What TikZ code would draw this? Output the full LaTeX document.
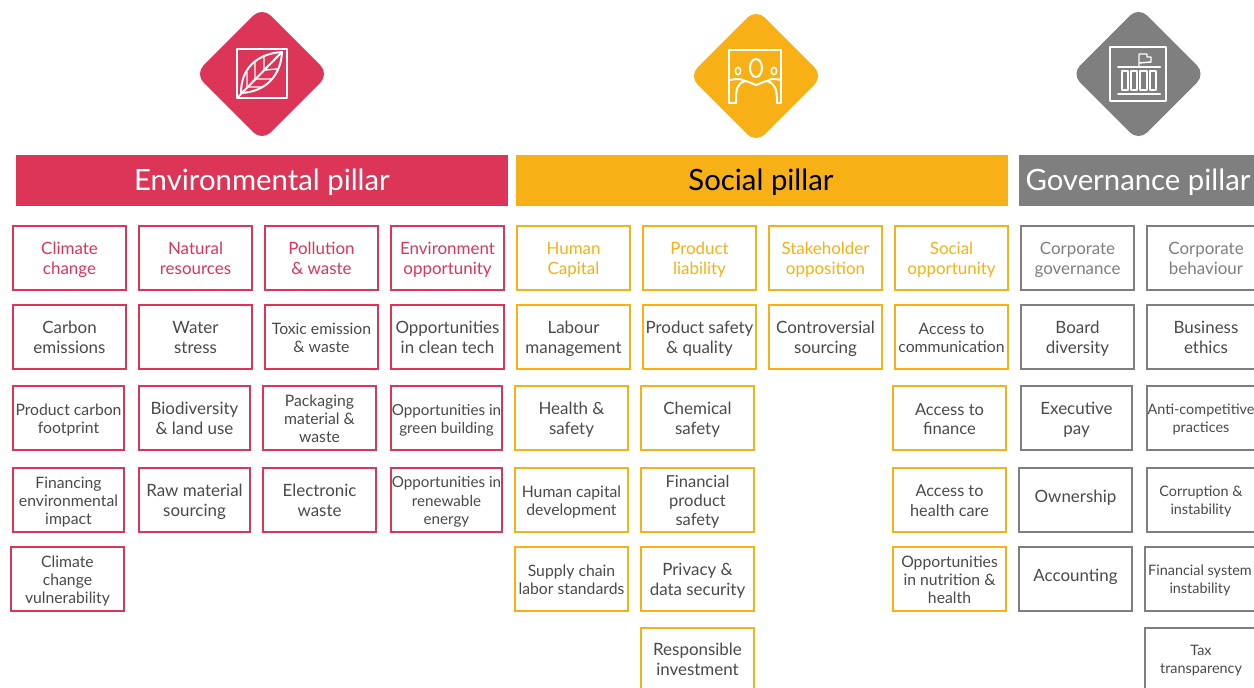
\documentclass[tikz,border=0pt]{standalone}
\usepackage{fontspec}
\setmainfont{Lato}
\definecolor{envc}{HTML}{DC3558}
\definecolor{socc}{HTML}{F7B015}
\definecolor{govc}{HTML}{7F7F7F}
\definecolor{txt}{HTML}{4A4A4A}
\newcommand{\fa}{\fontsize{12.7pt}{15pt}\selectfont}
\newcommand{\fb}{\fontsize{11.8pt}{13.8pt}\selectfont}
\newcommand{\fc}{\fontsize{10.8pt}{13.6pt}\selectfont}
\newcommand{\fd}{\fontsize{11.4pt}{13.8pt}\selectfont}
\newcommand{\fe}{\fontsize{12.4pt}{14.2pt}\selectfont}
\newcommand{\ff}{\fontsize{12.2pt}{15pt}\selectfont}
\newcommand{\bx}[9]{% line colour, text colour, font, name, x0,y0,x1,y1, text
  \pgfmathsetmacro{\bw}{(#7-#5)*0.75-1.2}\pgfmathsetmacro{\bh}{(#8-#6)*0.75-1.2}
  \node[cell,draw=#1,text=#2,font=#3,minimum width=\bw pt,minimum height=\bh pt] (#4) at ({(#5+#7)/2},{(#6+#8)/2}) {\rule{0pt}{1em}#9\vphantom{g}}}
\tikzset{
  x=0.75pt,y=-0.75pt,
  cell/.style={rectangle,line width=1.5pt,inner sep=0pt,align=center,fill=white},
  pillar/.style={rectangle,inner sep=0pt,font=\fontsize{22pt}{25pt}\selectfont,anchor=center},
  gem/.style={line width=0pt,rounded corners=9pt},
  ico/.style={draw=white,line width=1.5pt,line join=round,line cap=round},
  icothin/.style={draw=white,line width=1.1pt,line join=round,line cap=round}
}
\begin{document}
\begin{tikzpicture}
\path[use as bounding box,fill=white] (0,0) rectangle (1254,688);
\clip (0,0) rectangle (1254,688);
% diamonds
\fill[envc,gem] (262,7) -- (329,74) -- (262,141) -- (195,74) -- cycle;
\fill[socc,gem] (756,9) -- (823,76) -- (756,143) -- (689,76) -- cycle;
\fill[govc,gem] (1138.5,7) -- (1205.5,74) -- (1138.5,141) -- (1071.5,74) -- cycle;
% leaf icon
\draw[ico] (237,49) rectangle (287,98);
\draw[ico] (237,98) -- (281,53);
\draw[ico] (241,93) .. controls (241,70) and (255,54) .. (282,52) .. controls (281,75) and (266,92) .. (241,93);
\draw[icothin] (247,87) -- (247,72) (255,79) -- (255,62) (264,70) -- (264,56)
  (247,87) -- (262,87) (255,79) -- (272,79) (264,70) -- (278,69);
% people icon
\draw[ico] (729,103) -- (729,50) -- (781,50) -- (781,103) -- (777,103);
\draw[ico] (729,103) -- (736,103) .. controls (736,88) and (737,84) .. (745,81) .. controls (750,82) and (753,84) .. (756,85) .. controls (760,84) and (762,82) .. (767,81) .. controls (775,84) and (777,88) .. (777,103);
\draw[ico] (730,80) .. controls (735,79) and (740,78) .. (745,81) (781,80) .. controls (776,79) and (771,78) .. (767,81);
\draw[ico] (756,68) ellipse [x radius=6,y radius=9];
\draw[icothin] (738,71) ellipse [x radius=2.7,y radius=3.7] (774,71) ellipse [x radius=2.7,y radius=3.7];
% building icon
\draw[ico] (1110,47) rectangle (1166,101);
\draw[ico] (1118,67) -- (1160,67) (1118,94) -- (1160,94);
\draw[icothin] (1139,66) -- (1139,54) -- (1147,54) -- (1147,57) -- (1151,57) -- (1151,62) -- (1139,63);
\draw[icothin] (1122,71) rectangle (1128,90) (1131,71) rectangle (1137,90) (1140,71) rectangle (1147,90) (1150,71) rectangle (1156,90);
% headers
\fill[envc] (16,155) rectangle (508,206);
\fill[socc] (516,155) rectangle (1008,206);
\fill[govc] (1019,155) rectangle (1254,206);
\node[pillar,text=white] (henv) at (262,182.5) {Environmental pillar};
\node[pillar,text=black] (hsoc) at (761,182.5) {Social pillar};
\node[pillar,text=white] (hgov) at (1138,182.5) {Governance pillar};
% Environmental
\bx{envc}{envc}{\fa}{e11}{12}{225}{127}{291} {Climate\\change};
\bx{envc}{envc}{\fa}{e12}{138}{225}{253}{291} {Natural\\resources};
\bx{envc}{envc}{\fa}{e13}{264}{225}{379}{291} {Pollution\\\& waste};
\bx{envc}{envc}{\fa}{e14}{390}{225}{505}{291} {Environment\\opportunity};
\bx{envc}{txt}{\fa}{e21}{12}{304}{127}{370} {Carbon\\emissions};
\bx{envc}{txt}{\fa}{e22}{138}{304}{253}{370} {Water\\stress};
\bx{envc}{txt}{\fb}{e23}{264}{304}{379}{370} {Toxic emission\\\& waste};
\bx{envc}{txt}{\fa}{e24}{390}{304}{505}{370} {Opportunities\\in clean tech};
\bx{envc}{txt}{\fb}{e31}{12}{385}{125}{451} {Product carbon\\footprint};
\bx{envc}{txt}{\fa}{e32}{138}{385}{251}{451} {Biodiversity\\\& land use};
\bx{envc}{txt}{\fb}{e33}{262}{385}{377}{451} {Packaging\\material \&\\waste};
\bx{envc}{txt}{\fd}{e34}{390}{385}{503}{451} {Opportunities in\\green building};
\bx{envc}{txt}{\fb}{e41}{12}{467}{125}{533} {Financing\\environmental\\impact};
\bx{envc}{txt}{\fa}{e42}{138}{467}{251}{533} {Raw material\\sourcing};
\bx{envc}{txt}{\fa}{e43}{262}{467}{377}{533} {Electronic\\waste};
\bx{envc}{txt}{\fd}{e44}{390}{467}{503}{533} {Opportunities in\\renewable\\energy};
\bx{envc}{txt}{\fb}{e51}{10}{546}{125}{612} {Climate\\change\\vulnerability};
% Social
\bx{socc}{socc}{\fa}{s11}{516}{225}{631}{291} {Human\\Capital};
\bx{socc}{socc}{\fa}{s12}{642}{225}{757}{291} {Product\\liability};
\bx{socc}{socc}{\fa}{s13}{768}{225}{883}{291} {Stakeholder\\opposition};
\bx{socc}{socc}{\fa}{s14}{894}{225}{1009}{291} {Social\\opportunity};
\bx{socc}{txt}{\fa}{s21}{516}{304}{631}{370} {Labour\\management};
\bx{socc}{txt}{\fa}{s22}{642}{304}{757}{370} {Product safety\\\& quality};
\bx{socc}{txt}{\fa}{s23}{768}{304}{883}{370} {Controversial\\sourcing};
\bx{socc}{txt}{\fb}{s24}{894}{304}{1009}{370} {Access to\\communication};
\bx{socc}{txt}{\fa}{s31}{514}{385}{629}{451} {Health \&\\safety};
\bx{socc}{txt}{\fa}{s32}{640}{385}{755}{451} {Chemical\\safety};
\bx{socc}{txt}{\fe}{s34}{892}{385}{1007}{451} {Access to\\finance};
\bx{socc}{txt}{\fb}{s41}{514}{467}{629}{533} {Human capital\\development};
\bx{socc}{txt}{\fe}{s42}{640}{467}{755}{533} {Financial\\product\\safety};
\bx{socc}{txt}{\ff}{s44}{892}{467}{1007}{533} {Access to\\health care};
\bx{socc}{txt}{\fb}{s51}{514}{546}{629}{612} {Supply chain\\labor standards};
\bx{socc}{txt}{\fa}{s52}{640}{546}{755}{612} {Privacy \&\\data security};
\bx{socc}{txt}{\fb}{s54}{892}{546}{1007}{612} {Opportunities\\in nutrition \&\\health};
\bx{socc}{txt}{\fa}{s62}{640}{627}{755}{691} {Responsible\\investment};
% Governance
\bx{govc}{govc}{\fa}{g11}{1020}{225}{1135}{291} {Corporate\\governance};
\bx{govc}{govc}{\fa}{g12}{1146}{225}{1266}{291} {Corporate\\behaviour};
\bx{govc}{txt}{\fa}{g21}{1020}{304}{1135}{370} {Board\\diversity};
\bx{govc}{txt}{\fa}{g22}{1146}{304}{1266}{370} {Business\\ethics};
\bx{govc}{txt}{\fa}{g31}{1020}{385}{1133}{451} {Executive\\pay};
\bx{govc}{txt}{\fc}{g32}{1146}{385}{1256}{451} {Anti-competitive\\practices};
\bx{govc}{txt}{\fa}{g41}{1018}{467}{1133}{533} {\raisebox{3pt}{Ownership}};
\bx{govc}{txt}{\fc}{g42}{1146}{467}{1256}{533} {Corruption \&\\instability};
\bx{govc}{txt}{\fa}{g51}{1018}{546}{1133}{612} {\raisebox{3pt}{Accounting}};
\bx{govc}{txt}{\fc}{g52}{1144}{546}{1256}{612} {Financial system\\instability};
\bx{govc}{txt}{\fc}{g62}{1144}{627}{1258}{691} {Tax\\transparency};
\end{tikzpicture}
\end{document}
